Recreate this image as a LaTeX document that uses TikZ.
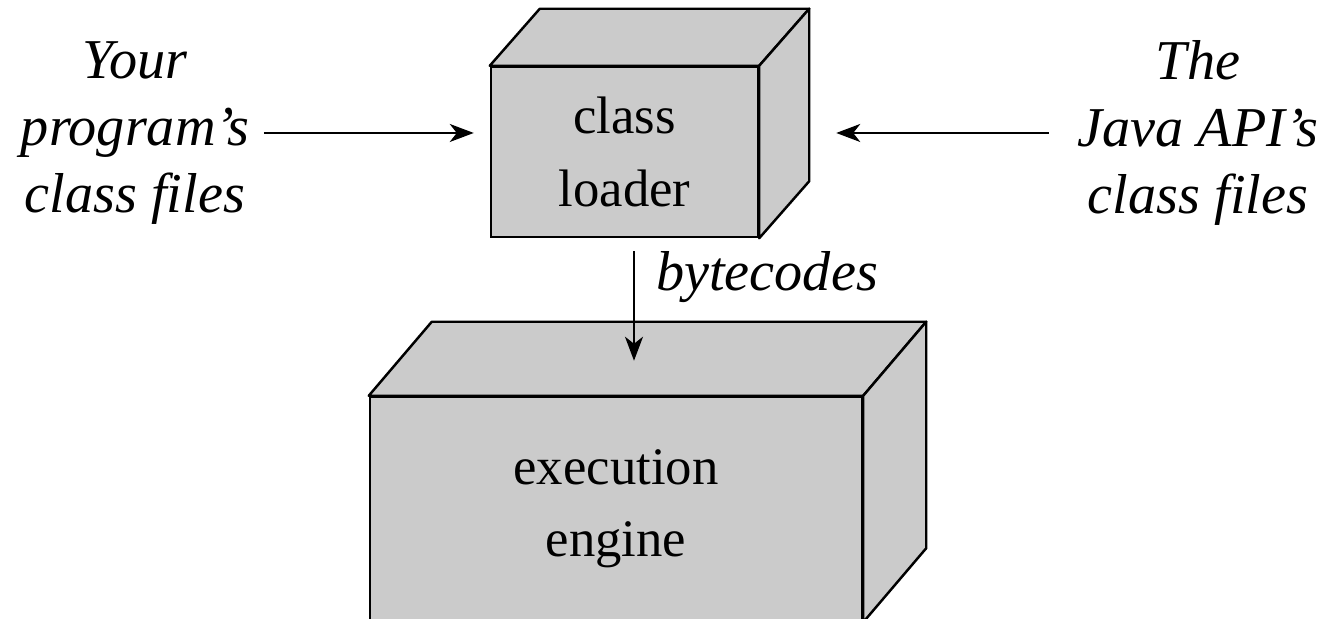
\documentclass[tikz,border=0pt]{standalone}
\usepackage{fontspec}
\setmainfont{Liberation Serif}
\usetikzlibrary{arrows.meta}

\definecolor{boxgray}{RGB}{203,203,203}
\tikzset{
    box/.style={draw, line width=0.7pt, fill=boxgray, align=center,
                inner sep=0pt, font=\fontsize{15}{20.5}\selectfont},
    face/.style={draw, line width=0.7pt, fill=boxgray, line join=round},
    srclabel/.style={align=center, inner sep=0pt,
                font=\fontsize{16}{19}\selectfont\itshape},
    arr/.style={-{Stealth[length=2.4mm, width=1.8mm, inset=0.7mm]}, line width=0.6pt}
}

\begin{document}
\begin{tikzpicture}
    \useasboundingbox (0, 0) rectangle (13.27, 6.19);

    \node [box, minimum width=2.67cm, minimum height=1.70cm] (loader) at (6.245, 4.67) {class\\loader};
    \node [box, minimum width=4.92cm, minimum height=2.24cm] (engine) at (6.16, 1.10) {execution\\engine};

    % top and side faces of the boxes
    \foreach \n/\dx/\dy in {loader/0.50/0.57, engine/0.63/0.74} {
        \draw [face] (\n.north west) -- ([shift={(\dx,\dy)}]\n.north west)
            -- ([shift={(\dx,\dy)}]\n.north east) -- (\n.north east) -- cycle;
        \draw [face] (\n.north east) -- ([shift={(\dx,\dy)}]\n.north east)
            -- ([shift={(\dx,\dy)}]\n.south east) -- (\n.south east) -- cycle;
    }

    \node [srclabel] (prog) at (1.35, 4.86) {Your\\program's\\class files};
    \node [srclabel] (api) at (11.98, 4.86) {The\\Java API's\\class files};

    \coordinate (loaderside) at ([xshift=5mm]loader.east);
    \draw [arr, shorten <=1.4mm, shorten >=1.6mm] (prog.east) -- (prog.east -| loader.west);
    \draw [arr, shorten <=2.8mm, shorten >=2.7mm] (api.west) -- (api.west -| loaderside);

    \coordinate (bctop) at ([xshift=0.95mm]loader.south);
    \coordinate (bcbot) at (bctop |- engine.north);
    \draw [arr, shorten <=1.3mm, shorten >=3.5mm] (bctop) -- (bcbot);
    \node [srclabel] (bytecodes) at (7.67, 3.42) {bytecodes};
\end{tikzpicture}
\end{document}
